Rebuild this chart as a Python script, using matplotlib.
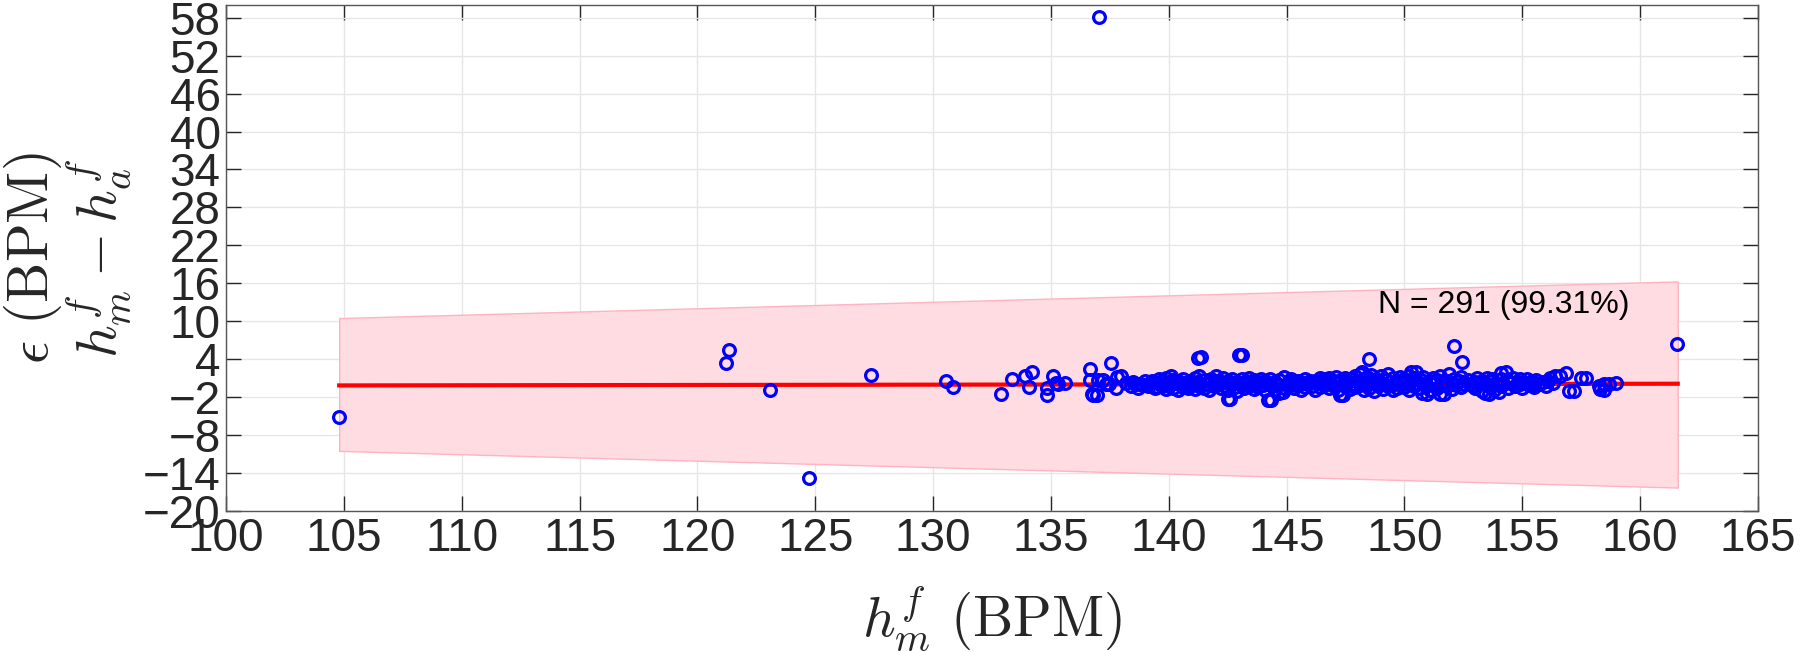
import numpy as np
import matplotlib
matplotlib.use("Agg")
import matplotlib.pyplot as plt

# values
# sparse / outlying points
sparse_x = [104.78, 121.34, 121.21, 123.07, 124.72, 127.38, 130.56, 130.84,
            132.9, 133.33, 133.9, 134.2, 134.06, 134.84, 134.84, 135.1, 135.2,
            135.3, 135.6, 136.67, 136.67, 136.74, 136.79, 136.95, 137.0, 137.06,
            137.2, 137.33, 137.45, 137.55, 137.76, 137.8, 137.97, 141.37, 143.12,
            142.6, 144.35, 144.85, 141.24, 142.5, 143.0, 144.2, 144.7, 147.25,
            147.4, 148.5, 150.3, 150.75, 150.95, 151.5, 151.66, 152.1, 152.46,
            152.8, 153.4, 153.57, 154.0, 154.1, 154.3, 156.2, 156.4, 156.6,
            156.84, 157.0, 157.2, 157.5, 157.7, 158.25, 158.3, 158.47, 158.47,
            158.7, 158.97, 161.58]
sparse_y = [-5.16, 5.42, 3.32, -0.9, -14.74, 1.53, 0.62, -0.47,
            -1.45, 0.8, 1.3, 1.95, -0.4, -1.65, -0.5, 1.3, 0.3,
            0.1, 0.2, 2.5, 0.65, -1.45, -1.6, -1.6, 0.65, 58.1,
            0.65, 0.1, 0.1, 3.4, -0.5, 1.2, 1.27, 4.3, 4.7,
            -2.25, -2.4, -1.2, 4.16, -2.3, 4.6, -2.5, -1.3, -1.7,
            -1.7, 4.0, 1.9, -1.4, -1.45, -1.5, -1.45, 6.1, 3.6,
            0.12, -1.37, -1.45, -1.2, 1.74, 1.95, 1.1, 1.27, 1.37,
            1.8, -1.0, -1.0, 0.95, 1.0, -0.2, -0.7, 0.1, -0.8,
            0.05, 0.2, 6.37]

# dense cluster around zero
dense_x = [138.2, 138.4, 138.5, 138.6, 138.7, 138.8, 138.9, 139.0, 139.1, 139.2,
           139.3, 139.4, 139.5, 139.5, 139.6, 139.7, 139.7, 139.8, 139.9, 139.9,
           140.0, 140.0, 140.1, 140.1, 140.2, 140.2, 140.3, 140.4, 140.4, 140.5,
           140.6, 140.6, 140.7, 140.8, 140.9, 140.9, 141.0, 141.1, 141.1, 141.2,
           141.3, 141.3, 141.5, 141.5, 141.6, 141.7, 141.7, 141.8, 141.9, 141.9,
           142.0, 142.0, 142.1, 142.2, 142.2, 142.3, 142.4, 142.5, 142.5, 142.7,
           142.7, 142.8, 142.9, 142.9, 143.0, 143.1, 143.2, 143.2, 143.3, 143.4,
           143.4, 143.5, 143.6, 143.6, 143.7, 143.8, 143.8, 143.9, 144.0, 144.1,
           144.1, 144.2, 144.3, 144.4, 144.5, 144.5, 144.6, 144.7, 144.9, 144.9,
           145.0, 145.1, 145.1, 145.2, 145.3, 145.4, 145.5, 145.5, 145.6, 145.7,
           145.8, 145.8, 145.9, 146.0, 146.1, 146.2, 146.2, 146.3, 146.4, 146.4,
           146.5, 146.6, 146.6, 146.7, 146.8, 146.8, 146.9, 147.0, 147.0, 147.1,
           147.2, 147.2, 147.3, 147.5, 147.5, 147.6, 147.7, 147.7, 147.8, 147.9,
           147.9, 148.0, 148.1, 148.1, 148.2, 148.2, 148.3, 148.3, 148.4, 148.4,
           148.5, 148.5, 148.6, 148.7, 148.7, 148.8, 148.9, 148.9, 149.0, 149.1,
           149.1, 149.2, 149.3, 149.3, 149.4, 149.5, 149.5, 149.6, 149.7, 149.7,
           149.8, 149.9, 150.0, 150.0, 150.1, 150.2, 150.2, 150.3, 150.4, 150.4,
           150.5, 150.5, 150.6, 150.7, 150.8, 150.8, 150.9, 151.1, 151.1, 151.2,
           151.3, 151.4, 151.4, 151.5, 151.6, 151.8, 151.8, 151.9, 152.0, 152.0,
           152.1, 152.2, 152.3, 152.4, 152.4, 152.5, 152.7, 152.9, 153.0, 153.0,
           153.1, 153.2, 153.3, 153.3, 153.4, 153.5, 153.6, 153.7, 153.7, 153.8,
           153.9, 154.1, 154.1, 154.2, 154.4, 154.4, 154.5, 154.6, 154.7, 154.8,
           154.9, 154.9, 155.0, 155.1, 155.2, 155.3, 155.4, 155.5, 155.5, 155.6,
           155.7, 155.9, 156.0, 156.1, 156.3]
dense_y = [0.3, -0.2, 0.4, 0.0, -0.5, 0.1, -0.1, 0.5, -0.3, 0.2,
           0.6, -0.6, 0.3, -0.4, 0.8, -0.2, 0.5, 0.0, 1.0, -0.7,
           0.4, -0.3, 1.4, 0.1, -0.5, 0.7, 0.2, -0.8, 0.5, 0.0,
           0.9, -0.4, 0.3, -0.6, 0.6, -0.1, 0.2, -0.7, 1.0, 0.4,
           1.4, -0.2, 0.7, -0.5, 0.1, -0.9, 0.5, 0.9, -0.3, 0.2,
           1.4, -0.1, 0.6, -0.6, 0.3, 1.0, -0.2, 0.5, -0.8, 0.1,
           0.8, -0.4, 0.4, -1.0, 0.0, 0.9, -0.5, 0.3, 0.6, 1.0,
           -0.2, 0.2, -0.7, 0.7, 0.0, 0.4, -0.4, 0.9, -0.1, 0.5,
           -0.8, 0.2, 0.8, -0.3, 0.4, -0.9, 0.0, 0.7, 1.2, -0.5,
           0.1, 0.5, -0.3, 0.9, -0.6, 0.2, 0.6, -0.1, -0.8, 0.3,
           0.8, -0.4, 0.0, 0.5, -0.2, 0.6, -0.8, 0.2, 1.0, -0.4,
           0.4, -0.1, 0.8, 0.3, -0.6, 1.1, 0.0, 0.6, -0.3, 1.2,
           0.2, -0.9, 0.7, -0.2, 1.0, 0.4, -0.7, 0.9, 0.1, 1.3,
           -0.4, 0.5, -0.1, 1.6, 1.95, 0.3, -0.8, 0.8, 0.0, 1.2,
           0.5, -0.5, 1.5, 0.2, -1.0, 0.9, -0.3, 0.4, 1.3, 0.0,
           -0.7, 0.7, 1.6, -0.2, 0.4, -0.9, 1.0, 0.1, 0.6, -0.5,
           1.2, 0.3, -0.4, 0.9, 0.0, 1.4, -0.8, 0.5, -0.2, 1.0,
           1.95, 0.2, -0.6, 0.7, 0.1, 1.2, -0.3, 0.5, -0.9, 1.0,
           0.2, -0.5, 0.7, 1.3, 0.0, 0.6, -0.3, 1.7, 0.3, -0.7,
           0.9, -0.1, 0.5, 1.2, -0.4, 0.1, 0.7, -0.2, 0.4, -0.6,
           1.0, 0.0, 0.6, -1.0, 0.2, 1.1, -0.3, 0.5, 0.9, -0.8,
           0.3, 0.8, -0.2, 0.1, 0.6, -0.6, 0.2, 1.0, -0.3, 0.4,
           0.0, 0.8, -0.5, 0.3, 0.9, -0.1, 0.5, 0.1, -0.4, 0.7,
           0.0, 0.4, -0.2, 0.6, 0.2]

# regression line and limits of agreement band (ends)
fit_x = [104.8, 161.6]
fit_y = [-0.15, 0.12]
band_upper = [10.5, 16.3]
band_lower = [-10.5, -16.3]

x_ticks = [100, 105, 110, 115, 120, 125, 130, 135, 140, 145, 150, 155, 160, 165]
y_ticks = [-20, -14, -8, -2, 4, 10, 16, 22, 28, 34, 40, 46, 52, 58]
note = "N = 291 (99.31%)"

plt.rcParams['font.family'] = ['Liberation Sans', 'DejaVu Sans']
plt.rcParams['mathtext.fontset'] = 'cm'

fig = plt.figure(figsize=(18, 6.52), dpi=100)
ax = fig.add_axes([0.1256, 0.2163, 0.851, 0.776])

ax.fill_between(fit_x, band_lower, band_upper, facecolor='#ffdbe2',
                edgecolor='#ffb3c1', linewidth=1, zorder=1)
ax.plot(fit_x, fit_y, color='red', linewidth=3, zorder=2)
ax.plot(sparse_x + dense_x, sparse_y + dense_y, 'o', markerfacecolor='none',
        markeredgecolor='blue', markersize=8.5, markeredgewidth=2.3, zorder=3)

ax.text(154.2, 12.6, note, fontsize=23, ha='center', va='center', color='black')

ax.set_xlim(100, 165)
ax.set_ylim(-20, 60)
ax.set_xticks(x_ticks)
ax.set_yticks(y_ticks)
ax.grid(True, color='#e6e6e6', linewidth=1)
ax.set_axisbelow(True)
ax.tick_params(direction='in', length=11, width=1, top=True, right=True,
               labelsize=33, colors='#262626', pad=4)
for s in ax.spines.values():
    s.set_color('#555555')
    s.set_linewidth(1)

ax.set_xlabel(r'$h_m^f\ (\mathrm{BPM})$', fontsize=41, color='#262626')
ax.xaxis.set_label_coords(0.5, -0.145)
ax.set_ylabel(r'$\epsilon\ (\mathrm{BPM})$' + '\n' + r'$h_m^f - h_a^f$',
              fontsize=41, color='#262626', linespacing=1.0)
ax.yaxis.set_label_coords(-0.061, 0.5)

fig.savefig('out.png', dpi=100)
